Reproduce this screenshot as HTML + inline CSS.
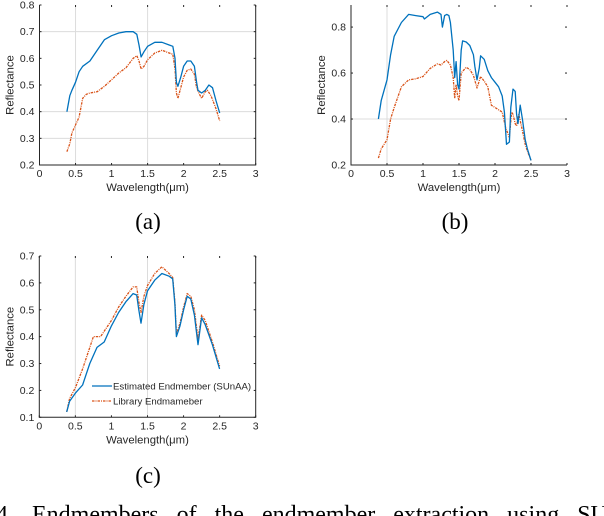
<!DOCTYPE html>
<html><head><meta charset="utf-8">
<style>
html,body{margin:0;padding:0;background:#fff;}
body{width:604px;height:516px;overflow:hidden;position:relative;}
svg{position:absolute;left:0;top:0;}
text{font-family:"Liberation Sans",sans-serif;fill:#262626;}
.lab{font-family:"Liberation Serif",serif;fill:#000;}
</style></head>
<body>
<svg id="fig" width="604" height="516" viewBox="0 0 604 516"></svg>
<script>
// ---- data ----
const aX=[0.38,0.42,0.45,0.5,0.55,0.6,0.7,0.8,0.9,1.0,1.1,1.2,1.3,1.35,1.38,1.41,1.45,1.5,1.6,1.7,1.8,1.85,1.88,1.9,1.92,1.96,2.0,2.05,2.1,2.15,2.18,2.2,2.25,2.3,2.35,2.4,2.45,2.5];
const aEst=[0.40,0.46,0.48,0.51,0.55,0.57,0.59,0.63,0.67,0.685,0.695,0.70,0.70,0.69,0.65,0.605,0.625,0.645,0.66,0.66,0.65,0.645,0.60,0.51,0.495,0.53,0.57,0.59,0.59,0.57,0.51,0.48,0.47,0.48,0.50,0.49,0.44,0.395];
const aLibX=[0.38,0.42,0.45,0.5,0.55,0.6,0.65,0.7,0.8,0.9,1.0,1.1,1.2,1.3,1.35,1.38,1.41,1.45,1.5,1.6,1.7,1.8,1.85,1.88,1.9,1.92,1.96,2.0,2.05,2.1,2.15,2.18,2.22,2.25,2.3,2.33,2.38,2.45,2.5];
const aLib=[0.25,0.28,0.32,0.35,0.38,0.45,0.465,0.47,0.475,0.495,0.52,0.545,0.565,0.60,0.61,0.59,0.56,0.57,0.595,0.62,0.63,0.62,0.615,0.56,0.47,0.45,0.49,0.53,0.555,0.56,0.54,0.49,0.465,0.45,0.475,0.48,0.46,0.41,0.365];
const bX=[0.38,0.42,0.5,0.55,0.6,0.7,0.8,0.9,1.0,1.02,1.1,1.2,1.25,1.27,1.3,1.33,1.36,1.38,1.42,1.44,1.46,1.48,1.5,1.53,1.55,1.6,1.65,1.7,1.72,1.75,1.78,1.8,1.85,1.9,1.95,2.0,2.05,2.1,2.13,2.16,2.2,2.22,2.25,2.28,2.3,2.32,2.35,2.38,2.42,2.45,2.5];
const bEst=[0.40,0.48,0.57,0.68,0.76,0.82,0.855,0.85,0.845,0.835,0.855,0.865,0.855,0.80,0.85,0.855,0.85,0.82,0.70,0.58,0.65,0.55,0.53,0.70,0.74,0.735,0.72,0.68,0.63,0.57,0.62,0.675,0.66,0.61,0.58,0.56,0.54,0.50,0.43,0.29,0.30,0.45,0.53,0.52,0.42,0.38,0.46,0.40,0.31,0.27,0.22];
const bLibX=[0.38,0.42,0.5,0.55,0.6,0.7,0.8,0.9,1.0,1.1,1.2,1.25,1.3,1.33,1.38,1.42,1.44,1.46,1.48,1.5,1.53,1.6,1.65,1.7,1.75,1.8,1.85,1.9,1.95,2.0,2.05,2.1,2.15,2.2,2.23,2.25,2.28,2.3,2.33,2.38,2.42,2.45,2.5];
const bLib=[0.23,0.27,0.31,0.40,0.45,0.54,0.57,0.575,0.585,0.62,0.64,0.635,0.65,0.655,0.635,0.58,0.49,0.55,0.50,0.48,0.60,0.625,0.615,0.59,0.535,0.585,0.565,0.54,0.46,0.45,0.44,0.43,0.36,0.32,0.43,0.42,0.38,0.37,0.42,0.35,0.29,0.26,0.22];
const cX=[0.38,0.42,0.5,0.6,0.7,0.8,0.9,1.0,1.1,1.2,1.3,1.35,1.38,1.41,1.45,1.5,1.6,1.7,1.8,1.85,1.88,1.9,1.95,2.0,2.05,2.1,2.15,2.2,2.25,2.3,2.4,2.5];
const cEst=[0.12,0.16,0.19,0.22,0.30,0.36,0.38,0.44,0.49,0.53,0.56,0.555,0.50,0.45,0.52,0.57,0.61,0.635,0.625,0.615,0.52,0.40,0.44,0.50,0.55,0.54,0.48,0.37,0.47,0.445,0.37,0.28];
const cLibX=[0.38,0.42,0.5,0.6,0.7,0.75,0.85,1.0,1.1,1.2,1.3,1.35,1.38,1.41,1.45,1.5,1.6,1.7,1.8,1.85,1.88,1.9,1.95,2.0,2.05,2.1,2.15,2.2,2.25,2.3,2.4,2.5];
const cLib=[0.12,0.17,0.21,0.28,0.36,0.40,0.40,0.46,0.51,0.55,0.585,0.585,0.53,0.49,0.55,0.59,0.635,0.66,0.635,0.62,0.53,0.41,0.45,0.51,0.56,0.55,0.50,0.39,0.48,0.46,0.38,0.29];
const xTicks=[0,0.5,1,1.5,2,2.5,3];
const aYTicks=[0.2,0.3,0.4,0.5,0.6,0.7,0.8];
const bYTicks=[0.2,0.4,0.6,0.8];
const cYTicks=[0.1,0.2,0.3,0.4,0.5,0.6,0.7];

const NS='http://www.w3.org/2000/svg';
const svg=document.getElementById('fig');
function mk(tag,attrs,parent){const e=document.createElementNS(NS,tag);for(const k in attrs)e.setAttribute(k,attrs[k]);(parent||svg).appendChild(e);return e;}
function fmt(v){return (Math.round(v*10)/10).toString();}

function plot(id,cfg){
  const g=mk('g',{});
  
  
  const sx=v=>cfg.x0+(v/3)*(cfg.x1-cfg.x0);
  const sy=v=>cfg.yb-(v-cfg.ymin)/(cfg.ymax-cfg.ymin)*(cfg.yb-cfg.yt);
  cfg.hgrid.forEach(v=>{const l=mk('line',{x1:cfg.x0,x2:cfg.x1,y1:sy(v),y2:sy(v),stroke:'#dcdcdc','stroke-width':1},g);});
  [0.5,1.5].forEach(v=>{if(cfg.vgrid.includes(v)){const l=mk('line',{x1:sx(v),x2:sx(v),y1:cfg.yt,y2:cfg.yb,stroke:'#dcdcdc','stroke-width':1},g);}});
  const ax=mk('path',{d:`M${cfg.x0},${cfg.yt}V${cfg.yb}H${cfg.x1}`+(cfg.right?`V${cfg.yt}`:''),fill:'none',stroke:'#262626','stroke-width':1},g);
  
  xTicks.forEach(v=>{
    mk('line',{x1:sx(v),x2:sx(v),y1:cfg.yb,y2:cfg.yb-2,stroke:'#262626'},g);
    mk('line',{x1:sx(v),x2:sx(v),y1:cfg.yt,y2:cfg.yt+2,stroke:'#262626'},g);
    const t=mk('text',{x:sx(v),y:cfg.yb+12,'font-size':10.5,'text-anchor':'middle'},g);t.textContent=fmt(v);
    
  });
  cfg.yticks.forEach(v=>{
    mk('line',{x1:cfg.x0,x2:cfg.x0+2,y1:sy(v),y2:sy(v),stroke:'#262626'},g);
    mk('line',{x1:cfg.x1,x2:cfg.x1-2,y1:sy(v),y2:sy(v),stroke:'#262626'},g);
    const t=mk('text',{x:cfg.x0-5,y:sy(v)+3.5,'font-size':10.5,'text-anchor':'end'},g);t.textContent=fmt(v);
    
  });
  const xl=mk('text',{x:(cfg.x0+cfg.x1)/2,y:cfg.yb+26,'font-size':11.3,'text-anchor':'middle'},g);
  xl.textContent='Wavelength(\u03bcm)';
  const yl=mk('text',{x:0,y:0,'font-size':11.3,'text-anchor':'middle',transform:`translate(${cfg.x0-26},${(cfg.yt+cfg.yb)/2}) rotate(-90)`},g);
  yl.textContent='Reflectance';
  const line=(xs,ys,color,dash,name)=>{
    const d=xs.map((x,i)=>(i?'L':'M')+sx(x).toFixed(1)+','+sy(ys[i]).toFixed(1)).join('');
    const p=mk('path',{d:d,fill:'none',stroke:color,'stroke-width':1.3,'stroke-dasharray':dash,'stroke-linejoin':'round'},g);
    
  };
  line(cfg.libX,cfg.lib,'#d95319','2.5 1 1 1','library-endmember-line');
  line(cfg.estX,cfg.est,'#0072bd','none','estimated-endmember-line');
  return {g,sx,sy};
}

plot('a',{x0:39.5,x1:255.7,yt:5,yb:165,ymin:0.2,ymax:0.8,yticks:aYTicks,hgrid:[0.3,0.4,0.7],vgrid:[0.5,1.5],right:true,estX:aX,est:aEst,libX:aLibX,lib:aLib});
plot('b',{x0:351,x1:567,yt:5,yb:165,ymin:0.2,ymax:0.896,yticks:bYTicks,hgrid:[0.4],vgrid:[0.5],right:false,estX:bX,est:bEst,libX:bLibX,lib:bLib});
plot('c',{x0:39.3,x1:255.7,yt:256,yb:417.3,ymin:0.1,ymax:0.7,yticks:cYTicks,hgrid:[],vgrid:[0.5,1.5],right:true,estX:cX,est:cEst,libX:cLibX,lib:cLib});

const lg=mk('g',{});


mk('line',{x1:92,x2:112,y1:386,y2:386,stroke:'#0072bd','stroke-width':1.3},lg);
mk('line',{x1:92,x2:112,y1:401,y2:401,stroke:'#d95319','stroke-width':1.3,'stroke-dasharray':'2.5 1 1 1'},lg);
const l1=mk('text',{x:113,y:389.5,'font-size':9.6},lg);l1.textContent='Estimated Endmember (SUnAA)';

const l2=mk('text',{x:113,y:404.5,'font-size':9.6},lg);l2.textContent='Library Endmameber';


[['(a)',148,229],['(b)',455,229],['(c)',148,483]].forEach(([s,x,y])=>{
  const t=mk('text',{x:x,y:y,'font-size':23,'text-anchor':'middle',class:'lab'});t.textContent=s;
  
});
const cap=mk('text',{x:-4,y:522,'font-size':24,class:'lab','word-spacing':'12'});
cap.textContent='4.  Endmembers of the endmember extraction using SU';


</script>
</body></html>
